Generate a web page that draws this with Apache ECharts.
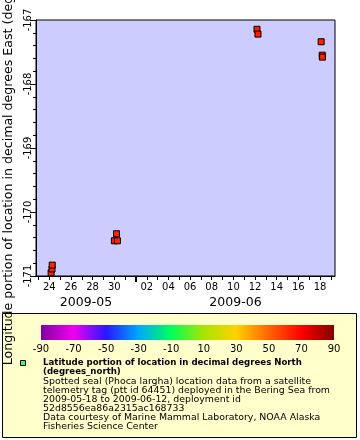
<!DOCTYPE html>
<html><head><meta charset="utf-8">
<script src="https://cdn.jsdelivr.net/npm/echarts@6/dist/echarts.min.js"></script>
<style>html,body{margin:0;padding:0;background:#fff}#c{width:360px;height:440px}</style>
</head><body><div id="c"></div>
<script>
// ---- data ----
const times = ['2009-05-24T04:00:00Z','2009-05-24T06:00:00Z','2009-05-24T06:30:00Z',
  '2009-05-30T00:15:00Z','2009-05-30T07:00:00Z','2009-05-30T05:00:00Z',
  '2009-06-12T04:20:00Z','2009-06-12T06:30:00Z',
  '2009-06-18T02:30:00Z','2009-06-18T05:00:00Z','2009-06-18T05:20:00Z'];
const longitudes = [-170.95,-170.89,-170.83,-170.45,-170.45,-170.34,-167.145,-167.22,-167.34,-167.55,-167.58];
const latitudes = [62.6,62.8,62.9,63.2,63.3,63.2,64.0,64.1,63.6,63.8,63.9];
const xRange = ['2009-05-22T18:30:00Z','2009-06-19T09:15:00Z'];
const monthStart = '2009-06-01T00:00:00Z';
const dayLabels = ['24','26','28','30','02','04','06','08','10','12','14','16','18'];
const dayLabelDates = ['2009-05-24','2009-05-26','2009-05-28','2009-05-30','2009-06-02','2009-06-04','2009-06-06','2009-06-08','2009-06-10','2009-06-12','2009-06-14','2009-06-16','2009-06-18'];
const monthLabels = ['2009-05','2009-06'];
const yTicks = [-171,-170,-169,-168,-167];
const paletteColors = ['#8000a0','#f000f0','#2818ff','#00a8ff','#00ff5a','#a8e400','#ffd200','#ff6400','#ff0000','#800000'];
const paletteRange = [-90, 90];
const paletteLabels = [-90,-70,-50,-30,-10,10,30,50,70,90];
const yTitle = 'Longitude portion of location in decimal degrees East (degrees_east)';
const legendTitle = ['Latitude portion of location in decimal degrees North','(degrees_north)'];
const legendLines = ['Spotted seal (Phoca largha) location data from a satellite',
  'telemetry tag (ptt id 64451) deployed in the Bering Sea from',
  '2009-05-18 to 2009-06-12, deployment id',
  '52d8556ea86a2315ac168733',
  'Data courtesy of Marine Mammal Laboratory, NOAA Alaska',
  'Fisheries Science Center'];

// ---- build ----
const T = s => Date.parse(s);
const xMin = T(xRange[0]), xMax = T(xRange[1]);
const DAY = 86400000;
const dailyTicks = [];
for (let t = Math.ceil(xMin / DAY) * DAY; t <= xMax; t += DAY) dailyTicks.push(t);
const labelVals = dayLabelDates.map(d => T(d + 'T00:00:00Z'));
const mStart = T(monthStart);
const monthVals = [(xMin + mStart) / 2, (mStart + xMax) / 2];
const seriesData = times.map((t, i) => [T(t), longitudes[i], latitudes[i]]);
const FONT = 'DejaVu Sans';

const hidden = {show: false};
const option = {
  animation: false,
  backgroundColor: '#fff',
  grid: [
    {left: 36, top: 20, width: 299, height: 256, show: true, backgroundColor: '#ccccff', borderColor: '#000', borderWidth: 1,
     outerBoundsMode: 'none', containLabel: false},
    {left: 41, top: 325, width: 293, height: 15, show: false, outerBoundsMode: 'none', containLabel: false}
  ],
  xAxis: [
    {type: 'value', gridIndex: 0, min: xMin, max: xMax, scale: true,
     axisLine: {show: true, lineStyle: {color: '#000', width: 1}},
     axisTick: {show: true, length: 4, customValues: dailyTicks, lineStyle: {color: '#000'}},
     axisLabel: {customValues: labelVals, margin: 6, color: '#000', fontFamily: FONT, fontSize: 10,
       formatter: v => dayLabels[labelVals.indexOf(v)] || ''},
     splitLine: hidden},
    {type: 'value', gridIndex: 0, min: xMin, max: xMax, scale: true, position: 'bottom',
     axisLine: hidden,
     axisTick: {show: true, length: 6, customValues: [mStart], lineStyle: {color: '#000', width: 2}},
     axisLabel: {customValues: monthVals, margin: 20, color: '#000', fontFamily: FONT, fontSize: 12.5,
       formatter: v => monthLabels[monthVals.indexOf(v)] || ''},
     splitLine: hidden},
    {type: 'value', gridIndex: 1, min: paletteRange[0], max: paletteRange[1],
     axisLine: hidden, axisTick: hidden, splitLine: hidden,
     axisLabel: {customValues: paletteLabels, margin: 4, color: '#000', fontFamily: FONT, fontSize: 10}}
  ],
  yAxis: [
    {type: 'value', gridIndex: 0, min: yTicks[0], max: yTicks[yTicks.length - 1], interval: 1,
     axisLine: {show: true, lineStyle: {color: '#000'}},
     axisTick: {show: true, length: 6, lineStyle: {color: '#000'}},
     minorTick: {show: true, splitNumber: 5, length: 3, lineStyle: {color: '#000'}},
     axisLabel: {rotate: 90, margin: 3, color: '#000', fontFamily: FONT, fontSize: 10},
     splitLine: hidden,
     name: yTitle, nameLocation: 'middle', nameGap: 20, nameRotate: 90,
     nameTextStyle: {color: '#000', fontFamily: FONT, fontSize: 12.6}},
    {type: 'value', gridIndex: 1, show: false}
  ],
  visualMap: {type: 'continuous', show: false, dimension: 2, min: paletteRange[0], max: paletteRange[1],
    seriesIndex: 0, inRange: {color: paletteColors}},
  series: [{
    type: 'scatter', xAxisIndex: 0, yAxisIndex: 0, data: seriesData,
    symbol: 'rect', symbolSize: 6,
    itemStyle: {borderColor: '#000', borderWidth: 1, opacity: 1}
  }],
  graphic: [
    {type: 'rect', z: -10, shape: {x: 2.5, y: 313.5, width: 354, height: 124},
     style: {fill: '#ffffcc', stroke: '#000', lineWidth: 1}, silent: true},
    {type: 'rect', shape: {x: 41, y: 325, width: 293, height: 15},
     style: {fill: new echarts.graphic.LinearGradient(0, 0, 1, 0,
       paletteColors.map((c, i) => ({offset: i / (paletteColors.length - 1), color: c})))}, silent: true},
    {type: 'rect', shape: {x: 20.5, y: 360.5, width: 5, height: 5},
     style: {fill: '#44ff44', stroke: '#000', lineWidth: 1}, silent: true},
    ...legendTitle.map((t, i) => ({type: 'text', x: 43, y: 363 + i * 9,
      style: {text: t, font: 'bold 8.6px "DejaVu Sans"', fill: '#000', verticalAlign: 'middle', textVerticalAlign: 'middle'}, silent: true})),
    ...legendLines.map((t, i) => ({type: 'text', x: 43, y: 381.8 + i * 9,
      style: {text: t, font: '9.4px "DejaVu Sans"', fill: '#000', verticalAlign: 'middle', textVerticalAlign: 'middle'}, silent: true}))
  ]
};
const chart = echarts.init(document.getElementById('c'), null, {renderer: 'canvas'});
chart.setOption(option);
</script></body></html>
